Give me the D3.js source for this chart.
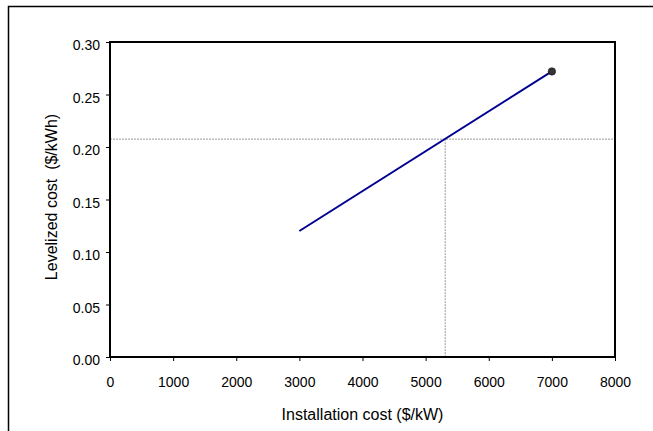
<!DOCTYPE html>
<html>
<head>
<meta charset="utf-8">
<script src="https://cdn.jsdelivr.net/npm/d3@7"></script>
<style>
  body { margin: 0; background: #fff; }
  svg text { font-family: "Liberation Sans", Arial, sans-serif; fill: #000; }
</style>
</head>
<body>
<div id="chart"></div>
<script>
// datos
var installCost = [3000, 7000];
var levelCost = [0.120, 0.272];
var markerX = [7000];
var markerY = [0.272];
var refX = 5310;     // linea punteada vertical
var refY = 0.2075;   // linea punteada horizontal
var xTicks = [0, 1000, 2000, 3000, 4000, 5000, 6000, 7000, 8000];
var yTicks = [0, 0.05, 0.10, 0.15, 0.20, 0.25, 0.30];

var width = 653;
var height = 431;
var plotLeft = 110, plotRight = 615, plotTop = 42, plotBottom = 357;

var svg = d3.select('#chart')
    .append('svg')
    .attr('width', width)
    .attr('height', height);

// marco exterior
svg.append('rect')
    .attr('x', 8.5).attr('y', 6.5)
    .attr('width', 700).attr('height', 500)
    .attr('fill', 'none')
    .attr('stroke', '#000')
    .attr('stroke-width', 1.5);

var xscale = d3.scaleLinear().domain([0, 8000]).range([plotLeft, plotRight]);
var yscale = d3.scaleLinear().domain([0, 0.30]).range([plotBottom, plotTop]);

// lineas de referencia
svg.append('line')
    .attr('x1', xscale(0)).attr('x2', xscale(8000))
    .attr('y1', yscale(refY)).attr('y2', yscale(refY))
    .attr('stroke', '#999').attr('stroke-width', 1)
    .attr('stroke-dasharray', '2,1');
svg.append('line')
    .attr('x1', xscale(refX)).attr('x2', xscale(refX))
    .attr('y1', yscale(refY)).attr('y2', yscale(0))
    .attr('stroke', '#999').attr('stroke-width', 1)
    .attr('stroke-dasharray', '2,1');

// marco del grafico
svg.append('rect')
    .attr('x', plotLeft).attr('y', plotTop)
    .attr('width', plotRight - plotLeft).attr('height', plotBottom - plotTop)
    .attr('fill', 'none')
    .attr('stroke', '#000')
    .attr('stroke-width', 2);

// ejes
var xaxis = d3.axisBottom(xscale).tickValues(xTicks).tickSize(4).tickPadding(16)
    .tickFormat(d3.format('d'));
var yaxis = d3.axisLeft(yscale).tickValues(yTicks).tickSize(4).tickPadding(6)
    .tickFormat(d3.format('.2f'));

var gx = svg.append('g')
    .attr('transform', 'translate(0,' + plotBottom + ')')
    .call(xaxis);
var gy = svg.append('g')
    .attr('transform', 'translate(' + plotLeft + ',0)')
    .call(yaxis);

[gx, gy].forEach(function(g) {
    g.select('.domain').remove();
    g.selectAll('.tick line').attr('stroke', '#000').attr('stroke-width', 1);
    g.selectAll('.tick text')
        .style('font-family', '"Liberation Sans", Arial, sans-serif')
        .style('font-size', '14px')
        .attr('fill', '#000');
});
gy.selectAll('.tick text').attr('dy', '0.54em');

// serie
var serie = installCost.map(function(d, i) { return [d, levelCost[i]]; });
var line = d3.line()
    .x(function(d) { return xscale(d[0]); })
    .y(function(d) { return yscale(d[1]); });

svg.append('path')
    .datum(serie)
    .attr('d', line)
    .attr('fill', 'none')
    .attr('stroke', '#000090')
    .attr('stroke-width', 2);

svg.selectAll('circle.marker')
    .data(markerX)
    .enter()
    .append('circle')
    .attr('class', 'marker')
    .attr('cx', function(d) { return xscale(d); })
    .attr('cy', function(d, i) { return yscale(markerY[i]); })
    .attr('r', 3.75)
    .attr('fill', '#333')
    .attr('stroke', '#111')
    .attr('stroke-width', 0.5);

// titulos de ejes
svg.append('text')
    .attr('x', (plotLeft + plotRight) / 2)
    .attr('y', 420)
    .style('text-anchor', 'middle')
    .style('font-size', '16px')
    .text('Installation cost ($/kW)');

svg.append('text')
    .attr('transform', 'translate(57,197) rotate(-90)')
    .style('text-anchor', 'middle')
    .style('font-size', '16px')
    .style('white-space', 'pre')
    .attr('xml:space', 'preserve')
    .text('Levelized cost  ($/kWh)');
</script>
</body>
</html>
